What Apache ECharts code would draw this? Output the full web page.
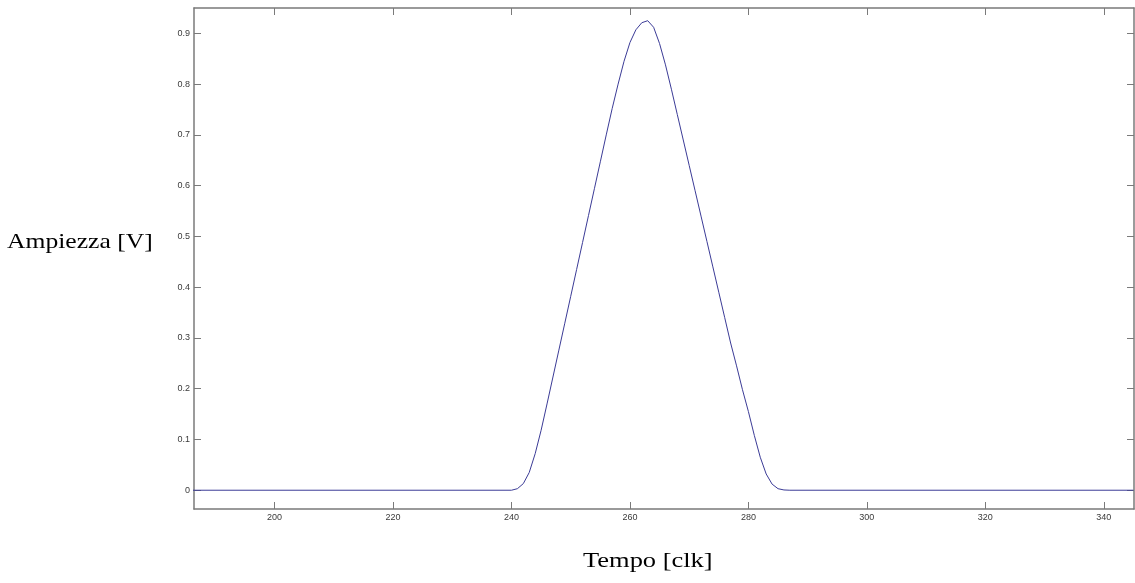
<!DOCTYPE html>
<html>
<head>
<meta charset="utf-8">
<script src="https://cdn.jsdelivr.net/npm/echarts@6/dist/echarts.min.js"></script>
<style>
  html, body { margin: 0; padding: 0; background: #fff; }
  #chart { width: 1135px; height: 583px; }
</style>
</head>
<body>
<div id="chart"></div>
<script>
// impulso in uscita dal formatore, campionato al clock
var tempo = [186, 240, 241, 242, 243, 244, 245, 246, 247, 248, 249, 250, 251, 252, 253, 254,
  255, 256, 257, 258, 259, 260, 261, 262, 263, 264, 265, 266, 267, 268, 269, 270, 271,
  272, 273, 274, 275, 276, 277, 278, 279, 280, 281, 282, 283, 284, 285, 286, 287, 345];
var ampiezza = [0, 0, 0.003, 0.013, 0.035, 0.072, 0.118, 0.17, 0.223, 0.276, 0.329, 0.382,
  0.435, 0.488, 0.541, 0.594, 0.647, 0.70, 0.752, 0.80, 0.845, 0.882, 0.907, 0.921, 0.925,
  0.912, 0.88, 0.838, 0.79, 0.74, 0.69, 0.64, 0.59, 0.54, 0.49, 0.44, 0.39, 0.34, 0.29,
  0.245, 0.198, 0.155, 0.108, 0.065, 0.032, 0.012, 0.003, 0.0005, 0, 0];

var xTicks = [200, 220, 240, 260, 280, 300, 320, 340];
var yTicks = [0, 0.1, 0.2, 0.3, 0.4, 0.5, 0.6, 0.7, 0.8, 0.9];

var xMin = 186.4, xMax = 345.1;
var yMin = -0.037, yMax = 0.95;

var chart = echarts.init(document.getElementById('chart'));

var lineCol = '#7a7a7a';
var labelStyle = { fontFamily: 'Liberation Sans, Arial', fontSize: 9, color: '#3a3a3a' };
var titleFont = '21px "Liberation Serif", "Times New Roman", serif';

function xAx(pos, showLabel) {
  return {
    type: 'value', position: pos, min: xMin, max: xMax,
    axisLine: { show: true, onZero: false, lineStyle: { color: lineCol, width: 1.5 } },
    axisTick: { show: true, inside: true, length: 7, customValues: xTicks, lineStyle: { color: lineCol } },
    axisLabel: Object.assign({ show: showLabel, margin: 4, customValues: xTicks }, labelStyle),
    splitLine: { show: false }
  };
}
function yAx(pos, showLabel) {
  return {
    type: 'value', position: pos, min: yMin, max: yMax,
    axisLine: { show: true, onZero: false, lineStyle: { color: lineCol, width: 1.5 } },
    axisTick: { show: true, inside: true, length: 7, customValues: yTicks, lineStyle: { color: lineCol } },
    axisLabel: Object.assign({ show: showLabel, margin: 4, customValues: yTicks }, labelStyle),
    splitLine: { show: false }
  };
}

chart.setOption({
  backgroundColor: '#fff',
  animation: false,
  grid: { left: 194, right: 1, top: 8, bottom: 74, containLabel: false },
  xAxis: [xAx('bottom', true), xAx('top', false)],
  yAxis: [yAx('left', true), yAx('right', false)],
  graphic: [
    { type: 'text', x: 7, y: 232, scaleX: 1.22,
      style: { text: 'Ampiezza [V]', font: titleFont, fill: '#000', verticalAlign: 'top' } },
    { type: 'text', x: 583, y: 551, scaleX: 1.26,
      style: { text: 'Tempo [clk]', font: titleFont, fill: '#000', verticalAlign: 'top' } }
  ],
  series: [{
    type: 'line',
    xAxisIndex: 0, yAxisIndex: 0,
    data: tempo.map(function (t, i) { return [t, ampiezza[i]]; }),
    showSymbol: false,
    smooth: false,
    lineStyle: { color: '#3b3b96', width: 1 }
  }]
});
</script>
</body>
</html>
